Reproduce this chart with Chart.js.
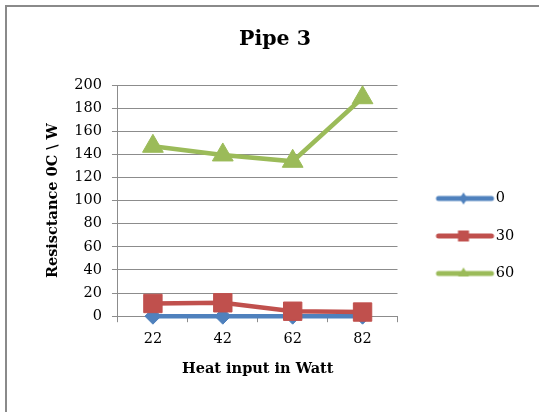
<!DOCTYPE html>
<html>
<head>
<meta charset="utf-8">
<script src="https://cdn.jsdelivr.net/npm/chart.js@4.4.1/dist/chart.umd.min.js"></script>
<style>
html, body { margin: 0; padding: 0; background: #fff; overflow: hidden; }
#wrap { position: relative; width: 539px; height: 412px; overflow: hidden; }
#pipe-chart { display: block; }
.edge { position: absolute; background: #8a8a8a; pointer-events: none; }
#edge-left { left: 5px; top: 5px; width: 2px; height: 407px; }
#edge-top { left: 5px; top: 5px; width: 534px; height: 2px; }
</style>
</head>
<body>
<div id="wrap">
  <canvas id="pipe-chart" width="539" height="412"></canvas>
  <div class="edge" id="edge-left"></div>
  <div class="edge" id="edge-top"></div>
</div>
<script>
const categories = ['22', '42', '62', '82'];
const seriesNames = ['0', '30', '60'];
const values0 = [0, 0, 0, 0];
const values30 = [11, 11.6, 4.3, 3.6];
const values60 = [147, 139.5, 134, 189];
const yMin = 0;
const yMax = 200;
const yStep = 20;

const blue = '#4f81bd';
const red = '#c0504d';
const green = '#9bbb59';
const gridGray = '#8c8c8c';
const serif = 'DejaVu Serif';

// legend sample: line with a small marker, drawn on a little canvas
function legendIcon(color, marker) {
    const c = document.createElement('canvas');
    c.width = 100;
    c.height = 30;
    const g = c.getContext('2d');
    g.strokeStyle = color;
    g.fillStyle = color;
    g.lineWidth = 5;
    g.lineCap = 'round';
    g.beginPath();
    g.moveTo(34, 15);
    g.lineTo(87, 15);
    g.stroke();
    const mx = 59, my = 15;
    g.beginPath();
    if (marker === 'diamond') {
        g.moveTo(mx, my - 6); g.lineTo(mx + 4, my); g.lineTo(mx, my + 6); g.lineTo(mx - 4, my);
    } else if (marker === 'square') {
        g.rect(mx - 5.5, my - 5.5, 11, 11);
    } else {
        g.moveTo(mx, my - 6); g.lineTo(mx + 5.5, my + 3); g.lineTo(mx - 5.5, my + 3);
    }
    g.closePath();
    g.fill();
    return c;
}

const legendIcons = [legendIcon(blue, 'diamond'), legendIcon(red, 'square'), legendIcon(green, 'triangle')];

var ctx = document.getElementById('pipe-chart').getContext('2d');
var pipeChart = new Chart(ctx, {
    type: 'line',
    data: {
        labels: categories,
        datasets: [
            {
                label: seriesNames[0],
                data: values0,
                borderColor: blue,
                backgroundColor: blue,
                borderWidth: 4.5,
                pointStyle: 'rectRot',
                pointRadius: 8,
                pointBorderWidth: 1,
                order: 3,
                clip: false
            },
            {
                label: seriesNames[1],
                data: values30,
                borderColor: red,
                backgroundColor: red,
                borderWidth: 4.5,
                pointStyle: 'rect',
                pointRadius: 13,
                pointBorderWidth: 1,
                order: 2,
                clip: false
            },
            {
                label: seriesNames[2],
                data: values60,
                borderColor: green,
                backgroundColor: green,
                borderWidth: 4.5,
                pointStyle: 'triangle',
                pointRadius: 12,
                pointBorderWidth: 1,
                order: 1,
                clip: false
            }
        ]
    },
    options: {
        responsive: false,
        animation: false,
        layout: {
            padding: { left: 30, right: 19, top: 0, bottom: 30 }
        },
        plugins: {
            tooltip: { enabled: false },
            title: {
                display: true,
                text: 'Pipe 3',
                color: '#000',
                font: { family: serif, size: 20.5, weight: 'bold' },
                padding: { top: 27.7, bottom: 32.7 }
            },
            legend: {
                position: 'right',
                title: {
                    display: true,
                    text: ' ',
                    font: { size: 10 },
                    padding: { top: 78, bottom: 0 }
                },
                labels: {
                    usePointStyle: true,
                    pointStyleWidth: 68,
                    padding: 23,
                    color: '#000',
                    font: { family: serif, size: 14.5 },
                    generateLabels: (chart) => chart.data.datasets.map((ds, i) => ({
                        text: ds.label,
                        pointStyle: legendIcons[i],
                        fillStyle: ds.borderColor,
                        strokeStyle: ds.borderColor,
                        lineWidth: 0,
                        datasetIndex: i,
                        fontColor: '#000'
                    }))
                }
            }
        },
        scales: {
            x: {
                type: 'category',
                offset: true,
                grid: {
                    offset: true,
                    drawOnChartArea: false,
                    drawTicks: true,
                    tickLength: 6,
                    color: gridGray
                },
                border: { color: gridGray, width: 1 },
                ticks: {
                    color: '#000',
                    padding: 8,
                    maxRotation: 0,
                    font: { family: serif, size: 14.5 }
                },
                title: {
                    display: true,
                    text: 'Heat input in Watt',
                    color: '#000',
                    font: { family: serif, size: 14.5, weight: 'bold' },
                    padding: { top: 5, bottom: 4 }
                }
            },
            y: {
                min: yMin,
                max: yMax,
                grid: {
                    color: gridGray,
                    tickLength: 6,
                    lineWidth: 1
                },
                border: { color: gridGray, width: 1 },
                ticks: {
                    stepSize: yStep,
                    color: '#000',
                    padding: 10,
                    font: { family: serif, size: 14.5 }
                },
                title: {
                    display: true,
                    text: 'Resisctance 0C \\ W',
                    color: '#000',
                    font: { family: serif, size: 14.5, weight: 'bold' },
                    padding: { top: 14.3, bottom: 2.6 }
                }
            }
        }
    }
});
</script>
</body>
</html>
